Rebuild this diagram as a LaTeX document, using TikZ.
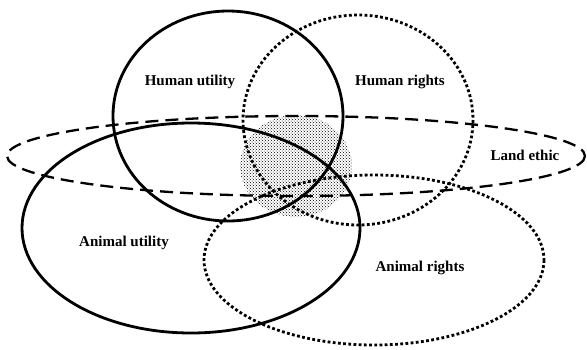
\documentclass[tikz,border=0pt]{standalone}
\usepackage{fontspec}
\setmainfont{Liberation Serif}
\usetikzlibrary{patterns}

\begin{document}
\begin{tikzpicture}[x=1pt, y=-1pt,
    utility/.style={line width=2.8pt},
    rights/.style={line width=2.8pt, dash pattern=on 2.8pt off 2.4pt},
    landline/.style={line width=2.3pt, dash pattern=on 13pt off 7pt},
    label/.style={font=\bfseries\fontsize{15}{18}\selectfont}]
    \useasboundingbox (0,0) rectangle (587,349);

    % Shaded common area
    \fill[pattern=crosshatch dots, pattern color=black] (296,166) ellipse [x radius=56, y radius=51];

    % Land ethic
    \draw[landline] (296,156) ellipse [x radius=289, y radius=40];
    \node[label] (landethic) at (525,155) {Land ethic};

    % Human utility
    \draw[utility] (228,116) ellipse [x radius=115, y radius=105];
    \node[label] (humanutility) at (190,82) {Human utility};

    % Human rights
    \draw[rights] (358,120) ellipse [x radius=115, y radius=105];
    \node[label] (humanrights) at (400,82) {Human rights};

    % Animal utility
    \draw[utility] (191,228) ellipse [x radius=169, y radius=105];
    \node[label] (animalutility) at (124,243) {Animal utility};

    % Animal rights
    \draw[rights] (374,260) ellipse [x radius=170, y radius=85];
    \node[label] (animalrights) at (420,268) {Animal rights};
\end{tikzpicture}
\end{document}
